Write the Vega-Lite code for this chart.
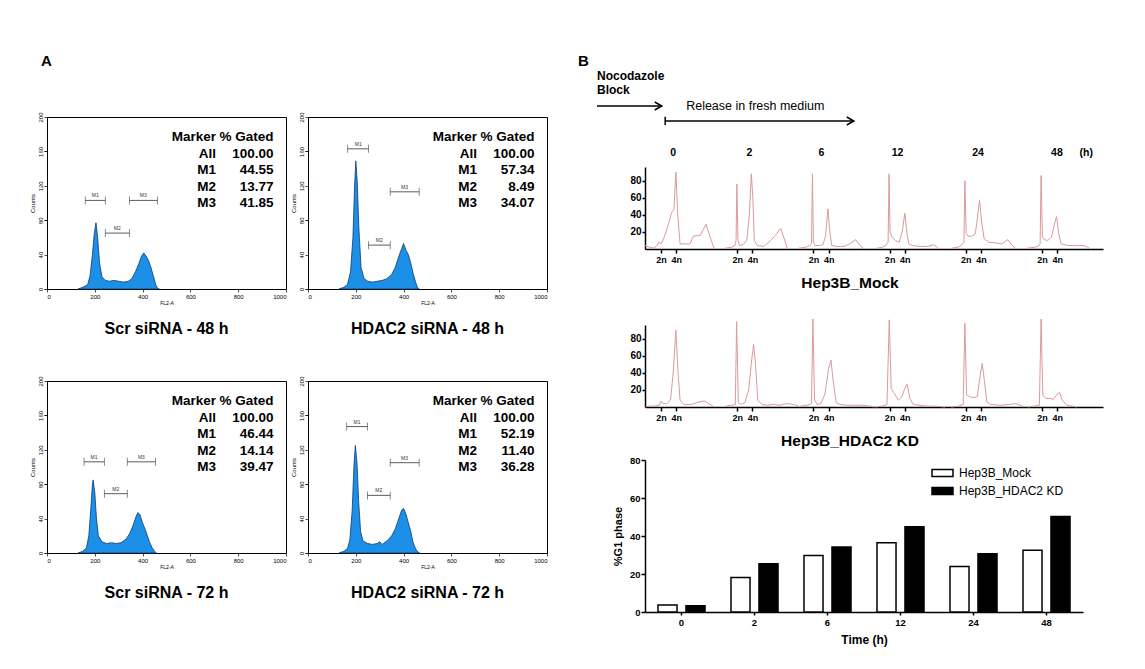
{
"$schema": "https://vega.github.io/schema/vega-lite/v6.json",
"padding": {"left": 28, "top": 53, "right": 5, "bottom": 5},
"config": {"view": {"stroke": null}, "font": "Liberation Sans", "axis": {"grid": false, "domainColor": "black", "tickColor": "black", "labelColor": "black", "titleColor": "black", "labelFont": "Liberation Sans", "titleFont": "Liberation Sans"}, "title": {"font": "Liberation Sans", "color": "black"}, "legend": {"labelFont": "Liberation Sans"}},
"datasets": {
"mock": [
{"g":0,"x":5.8,"v":4},{"g":0,"x":7,"v":2},{"g":0,"x":8,"v":1},{"g":0,"x":9,"v":4},{"g":0,"x":9.5,"v":8},{"g":0,"x":10,"v":6},{"g":0,"x":10.5,"v":10},{"g":0,"x":11,"v":16},{"g":0,"x":12,"v":30},{"g":0,"x":12.8,"v":43},{"g":0,"x":13.4,"v":46},{"g":0,"x":13.9,"v":90},{"g":0,"x":14.4,"v":40},{"g":0,"x":15,"v":6},{"g":0,"x":16,"v":6},{"g":0,"x":17.6,"v":6},{"g":0,"x":18.5,"v":15},{"g":0,"x":20.3,"v":16},{"g":0,"x":21.8,"v":29},{"g":0,"x":22.9,"v":14},{"g":0,"x":23.9,"v":1},
{"g":1,"x":26.9,"v":1},{"g":1,"x":28.5,"v":2},{"g":1,"x":29.4,"v":4},{"g":1,"x":29.7,"v":10},{"g":1,"x":29.9,"v":76},{"g":1,"x":30.2,"v":10},{"g":1,"x":30.6,"v":4},{"g":1,"x":31.5,"v":5},{"g":1,"x":32.5,"v":10},{"g":1,"x":33.2,"v":40},{"g":1,"x":33.7,"v":88},{"g":1,"x":34.1,"v":60},{"g":1,"x":34.5,"v":10},{"g":1,"x":35.3,"v":4},{"g":1,"x":37,"v":3},{"g":1,"x":38.8,"v":10},{"g":1,"x":40,"v":16},{"g":1,"x":41.4,"v":24},{"g":1,"x":42.2,"v":14},{"g":1,"x":43.2,"v":0},
{"g":2,"x":46.2,"v":1},{"g":2,"x":48,"v":2},{"g":2,"x":49,"v":4},{"g":2,"x":49.5,"v":6},{"g":2,"x":49.75,"v":88},{"g":2,"x":50,"v":8},{"g":2,"x":50.5,"v":4},{"g":2,"x":51.5,"v":4},{"g":2,"x":52.5,"v":5},{"g":2,"x":53.2,"v":15},{"g":2,"x":53.8,"v":47},{"g":2,"x":54.3,"v":20},{"g":2,"x":54.8,"v":4},{"g":2,"x":56,"v":3},{"g":2,"x":58,"v":3},{"g":2,"x":59.5,"v":6},{"g":2,"x":61.1,"v":11},{"g":2,"x":62,"v":5},{"g":2,"x":63.3,"v":0},
{"g":3,"x":66.7,"v":1},{"g":3,"x":68,"v":2},{"g":3,"x":69,"v":4},{"g":3,"x":69.6,"v":8},{"g":3,"x":69.85,"v":88},{"g":3,"x":70.1,"v":20},{"g":3,"x":70.6,"v":14},{"g":3,"x":71.5,"v":10},{"g":3,"x":72.5,"v":8},{"g":3,"x":73.3,"v":20},{"g":3,"x":74,"v":42},{"g":3,"x":74.5,"v":20},{"g":3,"x":75,"v":6},{"g":3,"x":76,"v":4},{"g":3,"x":78,"v":3},{"g":3,"x":80,"v":3},{"g":3,"x":81.6,"v":5},{"g":3,"x":82.3,"v":3},{"g":3,"x":82.9,"v":0},
{"g":4,"x":86.3,"v":1},{"g":4,"x":88,"v":2},{"g":4,"x":89,"v":5},{"g":4,"x":89.5,"v":8},{"g":4,"x":89.75,"v":80},{"g":4,"x":90.1,"v":18},{"g":4,"x":90.6,"v":15},{"g":4,"x":91.5,"v":15},{"g":4,"x":92.5,"v":18},{"g":4,"x":93,"v":35},{"g":4,"x":93.6,"v":57},{"g":4,"x":94.2,"v":30},{"g":4,"x":94.8,"v":12},{"g":4,"x":96,"v":8},{"g":4,"x":98,"v":7},{"g":4,"x":99.5,"v":6},{"g":4,"x":101,"v":11},{"g":4,"x":102,"v":5},{"g":4,"x":103.2,"v":0},
{"g":5,"x":106.1,"v":1},{"g":5,"x":108,"v":2},{"g":5,"x":109,"v":3},{"g":5,"x":109.5,"v":6},{"g":5,"x":109.75,"v":86},{"g":5,"x":110.1,"v":14},{"g":5,"x":110.6,"v":11},{"g":5,"x":111.5,"v":10},{"g":5,"x":112.5,"v":14},{"g":5,"x":113.2,"v":28},{"g":5,"x":113.8,"v":38},{"g":5,"x":114.4,"v":18},{"g":5,"x":115,"v":6},{"g":5,"x":117,"v":4},{"g":5,"x":119,"v":4},{"g":5,"x":121,"v":4},{"g":5,"x":122,"v":2},{"g":5,"x":122.7,"v":0}
],
"kd": [
{"g":0,"x":6,"v":1},{"g":0,"x":8,"v":1},{"g":0,"x":9.5,"v":2},{"g":0,"x":10,"v":7},{"g":0,"x":10.5,"v":4},{"g":0,"x":11.5,"v":4},{"g":0,"x":12.5,"v":8},{"g":0,"x":13.2,"v":40},{"g":0,"x":13.9,"v":90},{"g":0,"x":14.4,"v":45},{"g":0,"x":15,"v":8},{"g":0,"x":16,"v":3},{"g":0,"x":18,"v":3},{"g":0,"x":20,"v":6},{"g":0,"x":21.4,"v":7},{"g":0,"x":22.5,"v":4},{"g":0,"x":24,"v":0},
{"g":1,"x":27,"v":1},{"g":1,"x":28.5,"v":2},{"g":1,"x":29.5,"v":3},{"g":1,"x":29.85,"v":100},{"g":1,"x":30.3,"v":5},{"g":1,"x":31,"v":3},{"g":1,"x":32,"v":5},{"g":1,"x":33,"v":20},{"g":1,"x":33.8,"v":55},{"g":1,"x":34.3,"v":73},{"g":1,"x":34.8,"v":50},{"g":1,"x":35.4,"v":8},{"g":1,"x":36.5,"v":3},{"g":1,"x":38,"v":2},{"g":1,"x":39.5,"v":3},{"g":1,"x":41,"v":2},{"g":1,"x":43,"v":4},{"g":1,"x":45,"v":3},{"g":1,"x":46.5,"v":0},
{"g":2,"x":46.6,"v":1},{"g":2,"x":48.5,"v":2},{"g":2,"x":49.5,"v":4},{"g":2,"x":49.85,"v":103},{"g":2,"x":50.3,"v":8},{"g":2,"x":51,"v":3},{"g":2,"x":52,"v":4},{"g":2,"x":53,"v":15},{"g":2,"x":54,"v":45},{"g":2,"x":54.6,"v":55},{"g":2,"x":55.2,"v":30},{"g":2,"x":56,"v":5},{"g":2,"x":57,"v":3},{"g":2,"x":59,"v":2},{"g":2,"x":61,"v":2},{"g":2,"x":63,"v":2},{"g":2,"x":65,"v":1},{"g":2,"x":65.8,"v":0},
{"g":3,"x":66.2,"v":0},{"g":3,"x":68,"v":1},{"g":3,"x":69.3,"v":3},{"g":3,"x":69.9,"v":102},{"g":3,"x":70.4,"v":22},{"g":3,"x":71.2,"v":16},{"g":3,"x":72.3,"v":8},{"g":3,"x":73.2,"v":12},{"g":3,"x":74,"v":22},{"g":3,"x":74.6,"v":27},{"g":3,"x":75.3,"v":10},{"g":3,"x":76.2,"v":3},{"g":3,"x":78,"v":2},{"g":3,"x":80,"v":1},{"g":3,"x":82,"v":1},{"g":3,"x":84.6,"v":0},
{"g":4,"x":86.2,"v":0},{"g":4,"x":88,"v":1},{"g":4,"x":89.3,"v":3},{"g":4,"x":89.75,"v":98},{"g":4,"x":90.2,"v":14},{"g":4,"x":91,"v":12},{"g":4,"x":92,"v":11},{"g":4,"x":93,"v":12},{"g":4,"x":93.7,"v":35},{"g":4,"x":94.3,"v":51},{"g":4,"x":94.9,"v":30},{"g":4,"x":95.5,"v":6},{"g":4,"x":96.5,"v":3},{"g":4,"x":99,"v":2},{"g":4,"x":101.5,"v":3},{"g":4,"x":103,"v":4},{"g":4,"x":104.3,"v":2},{"g":4,"x":105.3,"v":0},
{"g":5,"x":106.2,"v":0},{"g":5,"x":108,"v":1},{"g":5,"x":109.3,"v":2},{"g":5,"x":109.75,"v":103},{"g":5,"x":110.2,"v":14},{"g":5,"x":111,"v":10},{"g":5,"x":112,"v":10},{"g":5,"x":113,"v":9},{"g":5,"x":114,"v":15},{"g":5,"x":114.6,"v":17},{"g":5,"x":115.3,"v":8},{"g":5,"x":116.5,"v":2},{"g":5,"x":118,"v":1},{"g":5,"x":119.2,"v":0}
]
},
"spacing": 29,
"resolve": {"scale": {"fill": "independent"}, "legend": {"fill": "independent"}},
"hconcat": [
{
"columns": 2,
"bounds": "flush",
"spacing": {"row": 92, "column": 22},
"concat": [
{
"width": 239, "height": 172,
"view": {"stroke": "black", "strokeWidth": 1},
"title": {"text": "Scr siRNA - 48 h", "orient": "bottom", "fontSize": 16, "fontWeight": "bold", "offset": 16},
"resolve": {"axis": {"y": "independent"}},
"layer": [
{"data": {"values": [{"x":130,"c":0},{"x":150,"c":2},{"x":170,"c":5},{"x":180,"c":15},{"x":190,"c":40},{"x":198,"c":65},{"x":205,"c":77},{"x":212,"c":60},{"x":220,"c":30},{"x":230,"c":14},{"x":245,"c":10},{"x":260,"c":9},{"x":280,"c":10},{"x":300,"c":9},{"x":320,"c":8},{"x":340,"c":9},{"x":355,"c":12},{"x":370,"c":20},{"x":385,"c":30},{"x":395,"c":38},{"x":405,"c":42},{"x":415,"c":38},{"x":425,"c":33},{"x":435,"c":25},{"x":445,"c":15},{"x":455,"c":5},{"x":462,"c":1},{"x":470,"c":0}]},
 "mark": {"type": "area", "color": "#1c8fe6", "stroke": "#0d3b73", "strokeWidth": 0.8},
 "encoding": {
  "x": {"field": "x", "type": "quantitative", "scale": {"domain": [0, 1000], "nice": false}, "axis": {"values": [0,50,100,150,200,250,300,350,400,450,500,550,600,650,700,750,800,850,900,950,1000], "format": "d", "labelExpr": "datum.value % 200 == 0 ? datum.label : ''", "title": "FL2-A", "titleFontSize": 5, "titleFontWeight": "normal", "titlePadding": 1, "labelFontSize": 6, "tickSize": 3, "tickWidth": 0.7, "domain": false, "labelPadding": 1, "labelOverlap": false}},
  "y": {"field": "c", "type": "quantitative", "scale": {"domain": [0, 200], "nice": false}, "axis": {"orient": "left", "values": [0,40,80,120,160,200], "labelAngle": -90, "title": "Counts", "titleFontSize": 6, "titleFontWeight": "normal", "titlePadding": 2, "labelFontSize": 6, "tickSize": 3, "tickWidth": 0.7, "domain": false, "labelPadding": 1, "labelOverlap": false}}
 }},
{"data": {"values": [{"t": "A", "x": -25, "y": 259}]},
 "mark": {"type": "text", "align": "left", "baseline": "alphabetic", "fontSize": 15, "fontWeight": "bold"},
 "encoding": {"x": {"field": "x", "type": "quantitative"}, "y": {"field": "y", "type": "quantitative", "axis": null}, "text": {"field": "t"}}},
{"data": {"values": [{"m":"M1","x1":160,"x2":244,"xc":202,"y":103},{"m":"M2","x1":244,"x2":345,"xc":294,"y":65},{"m":"M3","x1":345,"x2":462,"xc":403,"y":103}]},
 "layer": [
  {"mark": {"type": "rule", "color": "#333", "strokeWidth": 0.8}, "encoding": {"x": {"field": "x1", "type": "quantitative"}, "x2": {"field": "x2"}, "y": {"field": "y", "type": "quantitative", "axis": {"orient": "left", "values": [0,10,20,30,40,50,60,70,80,90,100,110,120,130,140,150,160,170,180,190,200], "labels": false, "title": null, "tickSize": 3, "tickWidth": 0.7, "domain": false}}}},
  {"mark": {"type": "tick", "orient": "vertical", "size": 8, "thickness": 0.8, "color": "#333"}, "encoding": {"x": {"field": "x1", "type": "quantitative"}, "y": {"field": "y", "type": "quantitative"}}},
  {"mark": {"type": "tick", "orient": "vertical", "size": 8, "thickness": 0.8, "color": "#333"}, "encoding": {"x": {"field": "x2", "type": "quantitative"}, "y": {"field": "y", "type": "quantitative"}}},
  {"mark": {"type": "text", "fontSize": 5, "dy": -5, "color": "#333"}, "encoding": {"x": {"field": "xc", "type": "quantitative"}, "y": {"field": "y", "type": "quantitative"}, "text": {"field": "m"}}}
 ]},
{"data": {"values": [{"label":"Marker","value":"% Gated","y":172},{"label":"All","value":"100.00","y":152.5},{"label":"M1","value":"44.55","y":133.3},{"label":"M2","value":"13.77","y":114},{"label":"M3","value":"41.85","y":94.8}]},
 "layer": [
  {"mark": {"type": "text", "align": "right", "baseline": "alphabetic", "fontSize": 13.5, "fontWeight": "bold"}, "encoding": {"x": {"datum": 707, "type": "quantitative"}, "y": {"field": "y", "type": "quantitative", "axis": null}, "text": {"field": "label"}}},
  {"mark": {"type": "text", "align": "right", "baseline": "alphabetic", "fontSize": 13.5, "fontWeight": "bold"}, "encoding": {"x": {"datum": 948, "type": "quantitative"}, "y": {"field": "y", "type": "quantitative", "axis": null}, "text": {"field": "value"}}}
 ]}
]
},
{
"width": 239, "height": 172,
"view": {"stroke": "black", "strokeWidth": 1},
"title": {"text": "HDAC2 siRNA - 48 h", "orient": "bottom", "fontSize": 16, "fontWeight": "bold", "offset": 16},
"resolve": {"axis": {"y": "independent"}},
"layer": [
{"data": {"values": [{"x":130,"c":0},{"x":150,"c":2},{"x":165,"c":5},{"x":178,"c":20},{"x":188,"c":60},{"x":195,"c":120},{"x":200,"c":149},{"x":206,"c":125},{"x":213,"c":70},{"x":222,"c":25},{"x":235,"c":12},{"x":250,"c":9},{"x":270,"c":8},{"x":290,"c":9},{"x":310,"c":10},{"x":330,"c":12},{"x":350,"c":17},{"x":365,"c":25},{"x":380,"c":38},{"x":392,"c":47},{"x":400,"c":53},{"x":410,"c":45},{"x":420,"c":40},{"x":430,"c":30},{"x":440,"c":18},{"x":450,"c":8},{"x":458,"c":2},{"x":465,"c":0}]},
 "mark": {"type": "area", "color": "#1c8fe6", "stroke": "#0d3b73", "strokeWidth": 0.8},
 "encoding": {
  "x": {"field": "x", "type": "quantitative", "scale": {"domain": [0, 1000], "nice": false}, "axis": {"values": [0,50,100,150,200,250,300,350,400,450,500,550,600,650,700,750,800,850,900,950,1000], "format": "d", "labelExpr": "datum.value % 200 == 0 ? datum.label : ''", "title": "FL2-A", "titleFontSize": 5, "titleFontWeight": "normal", "titlePadding": 1, "labelFontSize": 6, "tickSize": 3, "tickWidth": 0.7, "domain": false, "labelPadding": 1, "labelOverlap": false}},
  "y": {"field": "c", "type": "quantitative", "scale": {"domain": [0, 200], "nice": false}, "axis": {"orient": "left", "values": [0,40,80,120,160,200], "labelAngle": -90, "title": "Counts", "titleFontSize": 6, "titleFontWeight": "normal", "titlePadding": 2, "labelFontSize": 6, "tickSize": 3, "tickWidth": 0.7, "domain": false, "labelPadding": 1, "labelOverlap": false}}
 }},
{"data": {"values": [{"m":"M1","x1":166,"x2":253,"xc":210,"y":163},{"m":"M2","x1":253,"x2":344,"xc":298,"y":51},{"m":"M3","x1":344,"x2":465,"xc":404,"y":113}]},
 "layer": [
  {"mark": {"type": "rule", "color": "#333", "strokeWidth": 0.8}, "encoding": {"x": {"field": "x1", "type": "quantitative"}, "x2": {"field": "x2"}, "y": {"field": "y", "type": "quantitative", "axis": {"orient": "left", "values": [0,10,20,30,40,50,60,70,80,90,100,110,120,130,140,150,160,170,180,190,200], "labels": false, "title": null, "tickSize": 3, "tickWidth": 0.7, "domain": false}}}},
  {"mark": {"type": "tick", "orient": "vertical", "size": 8, "thickness": 0.8, "color": "#333"}, "encoding": {"x": {"field": "x1", "type": "quantitative"}, "y": {"field": "y", "type": "quantitative"}}},
  {"mark": {"type": "tick", "orient": "vertical", "size": 8, "thickness": 0.8, "color": "#333"}, "encoding": {"x": {"field": "x2", "type": "quantitative"}, "y": {"field": "y", "type": "quantitative"}}},
  {"mark": {"type": "text", "fontSize": 5, "dy": -5, "color": "#333"}, "encoding": {"x": {"field": "xc", "type": "quantitative"}, "y": {"field": "y", "type": "quantitative"}, "text": {"field": "m"}}}
 ]},
{"data": {"values": [{"label":"Marker","value":"% Gated","y":172},{"label":"All","value":"100.00","y":152.5},{"label":"M1","value":"57.34","y":133.3},{"label":"M2","value":"8.49","y":114},{"label":"M3","value":"34.07","y":94.8}]},
 "layer": [
  {"mark": {"type": "text", "align": "right", "baseline": "alphabetic", "fontSize": 13.5, "fontWeight": "bold"}, "encoding": {"x": {"datum": 707, "type": "quantitative"}, "y": {"field": "y", "type": "quantitative", "axis": null}, "text": {"field": "label"}}},
  {"mark": {"type": "text", "align": "right", "baseline": "alphabetic", "fontSize": 13.5, "fontWeight": "bold"}, "encoding": {"x": {"datum": 948, "type": "quantitative"}, "y": {"field": "y", "type": "quantitative", "axis": null}, "text": {"field": "value"}}}
 ]}
]
},
{
"width": 239, "height": 172,
"view": {"stroke": "black", "strokeWidth": 1},
"title": {"text": "Scr siRNA - 72 h", "orient": "bottom", "fontSize": 16, "fontWeight": "bold", "offset": 16},
"resolve": {"axis": {"y": "independent"}},
"layer": [
{"data": {"values": [{"x":130,"c":0},{"x":150,"c":2},{"x":165,"c":6},{"x":175,"c":20},{"x":183,"c":50},{"x":190,"c":80},{"x":193,"c":85},{"x":200,"c":70},{"x":207,"c":40},{"x":215,"c":20},{"x":230,"c":13},{"x":250,"c":11},{"x":270,"c":12},{"x":290,"c":11},{"x":310,"c":12},{"x":330,"c":16},{"x":345,"c":22},{"x":360,"c":32},{"x":372,"c":42},{"x":380,"c":47},{"x":388,"c":45},{"x":400,"c":35},{"x":410,"c":28},{"x":420,"c":20},{"x":430,"c":12},{"x":440,"c":6},{"x":450,"c":2},{"x":458,"c":0}]},
 "mark": {"type": "area", "color": "#1c8fe6", "stroke": "#0d3b73", "strokeWidth": 0.8},
 "encoding": {
  "x": {"field": "x", "type": "quantitative", "scale": {"domain": [0, 1000], "nice": false}, "axis": {"values": [0,50,100,150,200,250,300,350,400,450,500,550,600,650,700,750,800,850,900,950,1000], "format": "d", "labelExpr": "datum.value % 200 == 0 ? datum.label : ''", "title": "FL2-A", "titleFontSize": 5, "titleFontWeight": "normal", "titlePadding": 1, "labelFontSize": 6, "tickSize": 3, "tickWidth": 0.7, "domain": false, "labelPadding": 1, "labelOverlap": false}},
  "y": {"field": "c", "type": "quantitative", "scale": {"domain": [0, 200], "nice": false}, "axis": {"orient": "left", "values": [0,40,80,120,160,200], "labelAngle": -90, "title": "Counts", "titleFontSize": 6, "titleFontWeight": "normal", "titlePadding": 2, "labelFontSize": 6, "tickSize": 3, "tickWidth": 0.7, "domain": false, "labelPadding": 1, "labelOverlap": false}}
 }},
{"data": {"values": [{"m":"M1","x1":155,"x2":240,"xc":197,"y":106},{"m":"M2","x1":240,"x2":336,"xc":288,"y":69},{"m":"M3","x1":336,"x2":454,"xc":395,"y":106}]},
 "layer": [
  {"mark": {"type": "rule", "color": "#333", "strokeWidth": 0.8}, "encoding": {"x": {"field": "x1", "type": "quantitative"}, "x2": {"field": "x2"}, "y": {"field": "y", "type": "quantitative", "axis": {"orient": "left", "values": [0,10,20,30,40,50,60,70,80,90,100,110,120,130,140,150,160,170,180,190,200], "labels": false, "title": null, "tickSize": 3, "tickWidth": 0.7, "domain": false}}}},
  {"mark": {"type": "tick", "orient": "vertical", "size": 8, "thickness": 0.8, "color": "#333"}, "encoding": {"x": {"field": "x1", "type": "quantitative"}, "y": {"field": "y", "type": "quantitative"}}},
  {"mark": {"type": "tick", "orient": "vertical", "size": 8, "thickness": 0.8, "color": "#333"}, "encoding": {"x": {"field": "x2", "type": "quantitative"}, "y": {"field": "y", "type": "quantitative"}}},
  {"mark": {"type": "text", "fontSize": 5, "dy": -5, "color": "#333"}, "encoding": {"x": {"field": "xc", "type": "quantitative"}, "y": {"field": "y", "type": "quantitative"}, "text": {"field": "m"}}}
 ]},
{"data": {"values": [{"label":"Marker","value":"% Gated","y":172},{"label":"All","value":"100.00","y":152.5},{"label":"M1","value":"46.44","y":133.3},{"label":"M2","value":"14.14","y":114},{"label":"M3","value":"39.47","y":94.8}]},
 "layer": [
  {"mark": {"type": "text", "align": "right", "baseline": "alphabetic", "fontSize": 13.5, "fontWeight": "bold"}, "encoding": {"x": {"datum": 707, "type": "quantitative"}, "y": {"field": "y", "type": "quantitative", "axis": null}, "text": {"field": "label"}}},
  {"mark": {"type": "text", "align": "right", "baseline": "alphabetic", "fontSize": 13.5, "fontWeight": "bold"}, "encoding": {"x": {"datum": 948, "type": "quantitative"}, "y": {"field": "y", "type": "quantitative", "axis": null}, "text": {"field": "value"}}}
 ]}
]
},
{
"width": 239, "height": 172,
"view": {"stroke": "black", "strokeWidth": 1},
"title": {"text": "HDAC2 siRNA - 72 h", "orient": "bottom", "fontSize": 16, "fontWeight": "bold", "offset": 16},
"resolve": {"axis": {"y": "independent"}},
"layer": [
{"data": {"values": [{"x":130,"c":0},{"x":150,"c":2},{"x":165,"c":5},{"x":175,"c":15},{"x":185,"c":50},{"x":192,"c":100},{"x":198,"c":125},{"x":205,"c":105},{"x":212,"c":60},{"x":220,"c":25},{"x":230,"c":14},{"x":250,"c":11},{"x":270,"c":10},{"x":290,"c":11},{"x":300,"c":13},{"x":310,"c":10},{"x":330,"c":14},{"x":350,"c":20},{"x":365,"c":28},{"x":380,"c":40},{"x":392,"c":50},{"x":400,"c":52},{"x":410,"c":45},{"x":420,"c":35},{"x":430,"c":25},{"x":440,"c":12},{"x":450,"c":5},{"x":460,"c":1},{"x":467,"c":0}]},
 "mark": {"type": "area", "color": "#1c8fe6", "stroke": "#0d3b73", "strokeWidth": 0.8},
 "encoding": {
  "x": {"field": "x", "type": "quantitative", "scale": {"domain": [0, 1000], "nice": false}, "axis": {"values": [0,50,100,150,200,250,300,350,400,450,500,550,600,650,700,750,800,850,900,950,1000], "format": "d", "labelExpr": "datum.value % 200 == 0 ? datum.label : ''", "title": "FL2-A", "titleFontSize": 5, "titleFontWeight": "normal", "titlePadding": 1, "labelFontSize": 6, "tickSize": 3, "tickWidth": 0.7, "domain": false, "labelPadding": 1, "labelOverlap": false}},
  "y": {"field": "c", "type": "quantitative", "scale": {"domain": [0, 200], "nice": false}, "axis": {"orient": "left", "values": [0,40,80,120,160,200], "labelAngle": -90, "title": "Counts", "titleFontSize": 6, "titleFontWeight": "normal", "titlePadding": 2, "labelFontSize": 6, "tickSize": 3, "tickWidth": 0.7, "domain": false, "labelPadding": 1, "labelOverlap": false}}
 }},
{"data": {"values": [{"m":"M1","x1":162,"x2":249,"xc":205,"y":147},{"m":"M2","x1":249,"x2":344,"xc":296,"y":67},{"m":"M3","x1":344,"x2":465,"xc":404,"y":105}]},
 "layer": [
  {"mark": {"type": "rule", "color": "#333", "strokeWidth": 0.8}, "encoding": {"x": {"field": "x1", "type": "quantitative"}, "x2": {"field": "x2"}, "y": {"field": "y", "type": "quantitative", "axis": {"orient": "left", "values": [0,10,20,30,40,50,60,70,80,90,100,110,120,130,140,150,160,170,180,190,200], "labels": false, "title": null, "tickSize": 3, "tickWidth": 0.7, "domain": false}}}},
  {"mark": {"type": "tick", "orient": "vertical", "size": 8, "thickness": 0.8, "color": "#333"}, "encoding": {"x": {"field": "x1", "type": "quantitative"}, "y": {"field": "y", "type": "quantitative"}}},
  {"mark": {"type": "tick", "orient": "vertical", "size": 8, "thickness": 0.8, "color": "#333"}, "encoding": {"x": {"field": "x2", "type": "quantitative"}, "y": {"field": "y", "type": "quantitative"}}},
  {"mark": {"type": "text", "fontSize": 5, "dy": -5, "color": "#333"}, "encoding": {"x": {"field": "xc", "type": "quantitative"}, "y": {"field": "y", "type": "quantitative"}, "text": {"field": "m"}}}
 ]},
{"data": {"values": [{"label":"Marker","value":"% Gated","y":172},{"label":"All","value":"100.00","y":152.5},{"label":"M1","value":"52.19","y":133.3},{"label":"M2","value":"11.40","y":114},{"label":"M3","value":"36.28","y":94.8}]},
 "layer": [
  {"mark": {"type": "text", "align": "right", "baseline": "alphabetic", "fontSize": 13.5, "fontWeight": "bold"}, "encoding": {"x": {"datum": 707, "type": "quantitative"}, "y": {"field": "y", "type": "quantitative", "axis": null}, "text": {"field": "label"}}},
  {"mark": {"type": "text", "align": "right", "baseline": "alphabetic", "fontSize": 13.5, "fontWeight": "bold"}, "encoding": {"x": {"datum": 948, "type": "quantitative"}, "y": {"field": "y", "type": "quantitative", "axis": null}, "text": {"field": "value"}}}
 ]}
]
}
]
},
{
"bounds": "flush",
"spacing": 0,
"resolve": {"scale": {"fill": "independent"}, "legend": {"fill": "independent"}},
"vconcat": [
{
"width": 458, "height": 50,
"layer": [
 {"data": {"values": [{"x": -11.8, "y": 101, "t": "B"}]},
  "mark": {"type": "text", "align": "left", "baseline": "alphabetic", "fontSize": 15, "fontWeight": "bold"},
  "encoding": {"x": {"field": "x", "type": "quantitative", "scale": {"domain": [5.8, 126], "nice": false, "zero": false}, "axis": null}, "y": {"field": "y", "type": "quantitative", "scale": {"domain": [0, 50], "nice": false}, "axis": null}, "text": {"field": "t"}}},
 {"data": {"values": [{"x": -6.8, "y": 87, "t": "Nocodazole"}, {"x": -6.8, "y": 73, "t": "Block"}]},
  "mark": {"type": "text", "align": "left", "baseline": "alphabetic", "fontSize": 12, "fontWeight": "bold"},
  "encoding": {"x": {"field": "x", "type": "quantitative"}, "y": {"field": "y", "type": "quantitative"}, "text": {"field": "t"}}},
 {"data": {"values": [{"x": 16.6, "y": 57, "t": "Release in fresh medium"}]},
  "mark": {"type": "text", "align": "left", "baseline": "alphabetic", "fontSize": 12.5},
  "encoding": {"x": {"field": "x", "type": "quantitative"}, "y": {"field": "y", "type": "quantitative"}, "text": {"field": "t"}}},
 {"data": {"values": [{"x1": -6.8, "x2": 10.2, "y": 61}, {"x1": 11.1, "x2": 60.6, "y": 46}]},
  "mark": {"type": "rule", "color": "black", "strokeWidth": 1.5},
  "encoding": {"x": {"field": "x1", "type": "quantitative"}, "x2": {"field": "x2"}, "y": {"field": "y", "type": "quantitative"}}},
 {"data": {"values": [{"x": 11.1, "y1": 42, "y2": 50.3}]},
  "mark": {"type": "rule", "color": "black", "strokeWidth": 1.5},
  "encoding": {"x": {"field": "x", "type": "quantitative"}, "y": {"field": "y1", "type": "quantitative"}, "y2": {"field": "y2"}}},
 {"data": {"values": [{"x": 10.2, "y": 61}, {"x": 60.6, "y": 46}]},
  "mark": {"type": "point", "shape": "M-1.75,-1L0,0L-1.75,1", "size": 64, "filled": false, "stroke": "black", "strokeWidth": 1.5, "opacity": 1},
  "encoding": {"x": {"field": "x", "type": "quantitative"}, "y": {"field": "y", "type": "quantitative"}}},
 {"data": {"values": [{"x": 13.2, "t": "0"}, {"x": 33.2, "t": "2"}, {"x": 52.1, "t": "6"}, {"x": 72.1, "t": "12"}, {"x": 93.2, "t": "24"}, {"x": 113.9, "t": "48"}, {"x": 121.6, "t": "(h)"}]},
  "mark": {"type": "text", "baseline": "middle", "fontSize": 10.5, "fontWeight": "bold"},
  "encoding": {"x": {"field": "x", "type": "quantitative"}, "y": {"datum": 14, "type": "quantitative"}, "text": {"field": "t"}}}
]
},
{
"width": 458, "height": 82,
"title": {"text": "Hep3B_Mock", "orient": "bottom", "fontSize": 15.5, "fontWeight": "bold", "offset": 12, "dx": -24},
"data": {"name": "mock"},
"mark": {"type": "line", "color": "#dc9a9a", "strokeWidth": 1},
"encoding": {
 "x": {"field": "x", "type": "quantitative", "scale": {"domain": [5.8, 126], "nice": false, "zero": false}, "axis": {"values": [10,14,30,34,50,54,70,74,90,94,110,114], "labelExpr": "datum.value % 20 == 10 ? '2n' : '4n'", "title": null, "labelFontSize": 9, "labelFontWeight": "bold", "tickSize": 4, "tickWidth": 1.5, "domainWidth": 1.5, "labelPadding": 2, "labelOverlap": false}},
 "y": {"field": "v", "type": "quantitative", "scale": {"domain": [0, 96], "nice": false}, "axis": {"values": [20,40,60,80], "title": null, "labelFontSize": 10, "labelFontWeight": "bold", "tickSize": 3, "tickWidth": 1.5, "domainWidth": 1.5, "labelPadding": 1}},
 "detail": {"field": "g", "type": "nominal"}
}
},
{"width": 458, "height": 76, "data": {"values": [{}]}, "mark": {"type": "text", "text": ""}, "encoding": {}},
{
"width": 458, "height": 82,
"title": {"text": "Hep3B_HDAC2 KD", "orient": "bottom", "fontSize": 15.5, "fontWeight": "bold", "offset": 12, "dx": -24},
"data": {"name": "kd"},
"mark": {"type": "line", "color": "#dc9a9a", "strokeWidth": 1},
"encoding": {
 "x": {"field": "x", "type": "quantitative", "scale": {"domain": [5.8, 126], "nice": false, "zero": false}, "axis": {"values": [10,14,30,34,50,54,70,74,90,94,110,114], "labelExpr": "datum.value % 20 == 10 ? '2n' : '4n'", "title": null, "labelFontSize": 9, "labelFontWeight": "bold", "tickSize": 4, "tickWidth": 1.5, "domainWidth": 1.5, "labelPadding": 2, "labelOverlap": false}},
 "y": {"field": "v", "type": "quantitative", "scale": {"domain": [0, 96], "nice": false}, "axis": {"values": [20,40,60,80], "title": null, "labelFontSize": 10, "labelFontWeight": "bold", "tickSize": 3, "tickWidth": 1.5, "domainWidth": 1.5, "labelPadding": 1}},
 "detail": {"field": "g", "type": "nominal"}
}
},
{"width": 458, "height": 53, "data": {"values": [{}]}, "mark": {"type": "text", "text": ""}, "encoding": {}},
{
"width": 438, "height": 152,
"data": {"values": [
 {"time": "0", "group": "Hep3B_Mock", "v": 3.7}, {"time": "0", "group": "Hep3B_HDAC2 KD", "v": 3.3},
 {"time": "2", "group": "Hep3B_Mock", "v": 18.1}, {"time": "2", "group": "Hep3B_HDAC2 KD", "v": 25.4},
 {"time": "6", "group": "Hep3B_Mock", "v": 29.8}, {"time": "6", "group": "Hep3B_HDAC2 KD", "v": 34.2},
 {"time": "12", "group": "Hep3B_Mock", "v": 36.5}, {"time": "12", "group": "Hep3B_HDAC2 KD", "v": 44.9},
 {"time": "24", "group": "Hep3B_Mock", "v": 24.0}, {"time": "24", "group": "Hep3B_HDAC2 KD", "v": 30.7},
 {"time": "48", "group": "Hep3B_Mock", "v": 32.5}, {"time": "48", "group": "Hep3B_HDAC2 KD", "v": 50.2}
]},
"mark": {"type": "bar", "stroke": "black", "strokeWidth": 1.5},
"encoding": {
 "x": {"field": "time", "type": "nominal", "sort": ["0", "2", "6", "12", "24", "48"], "scale": {"paddingInner": 0, "paddingOuter": 0}, "axis": {"labelAngle": 0, "title": "Time (h)", "titleFontSize": 12, "titleFontWeight": "bold", "titlePadding": 8, "labelFontSize": 9.5, "labelFontWeight": "bold", "tickSize": 3, "tickWidth": 1.5, "domainWidth": 1.5, "labelPadding": 2}},
 "xOffset": {"field": "group", "type": "nominal", "sort": ["Hep3B_Mock", "Hep3B_HDAC2 KD"], "scale": {"paddingInner": 0.32, "paddingOuter": 0.464}},
 "y": {"field": "v", "type": "quantitative", "scale": {"domain": [0, 80], "nice": false}, "axis": {"values": [0, 20, 40, 60, 80], "title": "%G1 phase", "titleFontSize": 11, "titleFontWeight": "bold", "titlePadding": 6, "labelFontSize": 9.5, "labelFontWeight": "bold", "tickSize": 4, "tickWidth": 1.5, "domainWidth": 1.5, "labelPadding": 1}},
 "fill": {"field": "group", "type": "nominal", "scale": {"domain": ["Hep3B_Mock", "Hep3B_HDAC2 KD"], "range": ["white", "black"]}, "legend": {"orient": "none", "legendX": 289.5, "legendY": 5, "padding": 0, "title": null, "symbolType": "M-1.5,-0.5H1.5V0.5H-1.5Z", "symbolSize": 196, "symbolStrokeColor": "black", "symbolStrokeWidth": 1.5, "labelFontSize": 12, "labelOffset": 8.5, "rowPadding": 3, "labelColor": "black"}}
}
}
]
}
]
}
